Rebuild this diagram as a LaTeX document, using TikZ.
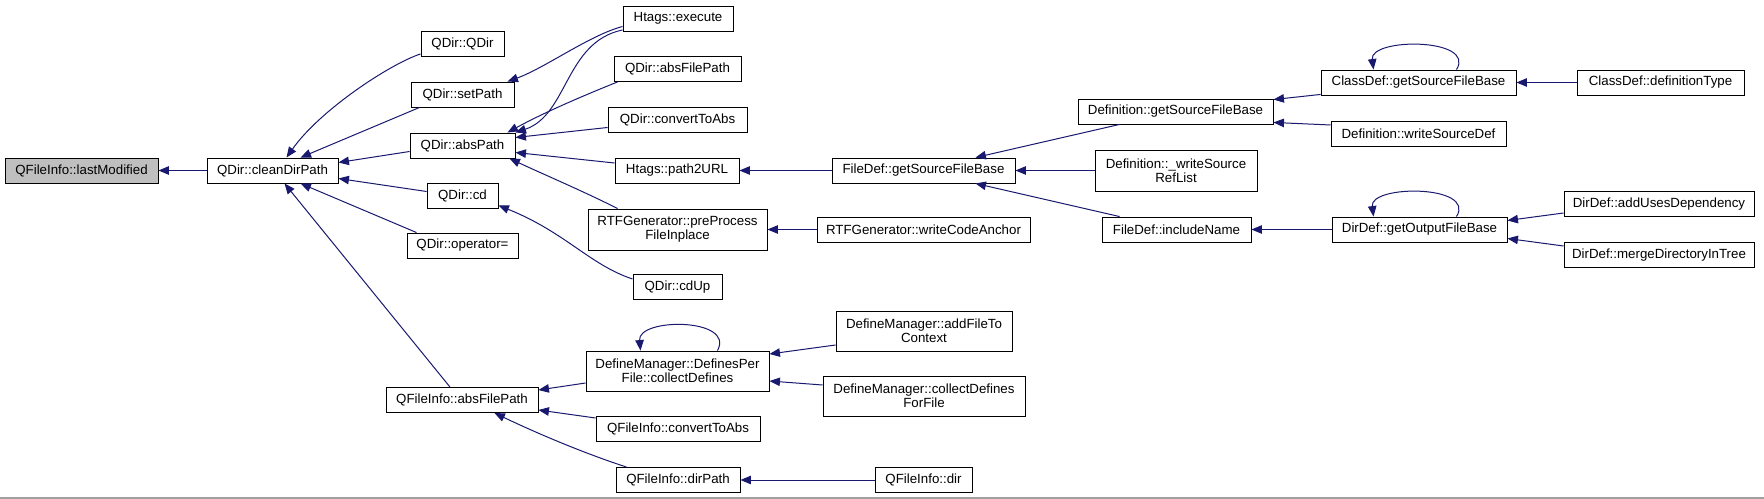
\documentclass[tikz,border=0pt]{standalone}
\usepackage{fontspec}
\setmainfont{Liberation Sans}
\usetikzlibrary{arrows.meta,calc}
\definecolor{edgeblue}{HTML}{191970}
\definecolor{curgray}{HTML}{BFBFBF}
\definecolor{rulegray}{HTML}{A0A0A0}
\begin{document}
\begin{tikzpicture}[x=1bp,y=-1bp,
  box/.style={draw=black, line width=0.9bp, fill=white, inner sep=0pt, align=center,
    font=\fontsize{13.3bp}{14bp}\selectfont, minimum height=25bp},
  tall/.style={minimum height=41bp},
  call/.style={draw=edgeblue, line width=1bp, -{Triangle[length=10.5bp,width=8.5bp]}}]
\useasboundingbox (0,0) rectangle (1764,499);
\fill[white] (0,0) rectangle (1764,499);
\draw[rulegray, line width=1.5bp] (0,498) -- (1764,498);

% column 0-1
\node[box, fill=curgray, minimum width=153bp] (last) at (81.5,170.5) {QFileInfo::lastModified};
\node[box, minimum width=131bp] (clean) at (272.5,170.5) {QDir::cleanDirPath};
% column 2
\node[box, minimum width=83bp] (qdir) at (462.5,44) {QDir::QDir};
\node[box, minimum width=103bp] (setPath) at (462.5,94.5) {QDir::setPath};
\node[box, minimum width=105bp] (absPath) at (462.5,145.5) {QDir::absPath};
\node[box, minimum width=71bp] (cd) at (462.5,195.5) {QDir::cd};
\node[box, minimum width=111bp] (opEq) at (462.5,245.5) {QDir::operator=};
\node[box, minimum width=152bp] (fiAbs) at (462,400) {QFileInfo::absFilePath};
% column 3
\node[box, minimum width=110bp] (execute) at (678,18.5) {Htags::execute};
\node[box, minimum width=127bp] (qdirAbsFile) at (677.5,69) {QDir::absFilePath};
\node[box, minimum width=139bp] (qdirConv) at (677.5,119.5) {QDir::convertToAbs};
\node[box, minimum width=124bp] (path2URL) at (677,170.5) {Htags::path2URL};
\node[box, tall, minimum width=179bp] (rtfPre) at (677.5,229.5) {RTFGenerator::preProcess\\FileInplace};
\node[box, minimum width=89bp] (cdUp) at (677.5,287) {QDir::cdUp};
\node[box, minimum height=40bp, minimum width=183bp] (definesPer) at (677.5,371) {DefineManager::DefinesPer\\File::collectDefines};
\node[box, minimum width=164bp] (fiConv) at (678,429) {QFileInfo::convertToAbs};
\node[box, minimum width=124bp] (fiDirPath) at (678,480) {QFileInfo::dirPath};
% column 4
\node[box, minimum width=183bp] (fdGetSrc) at (923.5,170.5) {FileDef::getSourceFileBase};
\node[box, minimum width=213bp] (rtfWrite) at (923.5,229.5) {RTFGenerator::writeCodeAnchor};
\node[box, minimum height=40bp, minimum width=176bp] (addFileTo) at (924,331) {DefineManager::addFileTo\\Context};
\node[box, minimum height=40bp, minimum width=202bp] (collectForFile) at (924,396) {DefineManager::collectDefines\\ForFile};
\node[box, minimum width=97bp] (fiDir) at (923.5,480) {QFileInfo::dir};
% column 5
\node[box, minimum width=195bp] (defGetSrc) at (1175.5,111.5) {Definition::getSourceFileBase};
\node[box, tall, minimum width=162bp] (writeSrcRef) at (1176,170.5) {Definition::\_writeSource\\RefList};
\node[box, minimum width=149bp] (includeName) at (1176.5,229.5) {FileDef::includeName};
% column 6
\node[box, minimum width=195bp] (classGetSrc) at (1418.5,82.5) {ClassDef::getSourceFileBase};
\node[box, minimum width=175bp] (writeSourceDef) at (1418.5,133.5) {Definition::writeSourceDef};
\node[box, minimum width=175bp] (dirGetOut) at (1419.5,229.5) {DirDef::getOutputFileBase};
% column 7
\node[box, minimum width=167bp] (defType) at (1660.5,82.5) {ClassDef::definitionType};
\node[box, minimum width=190bp] (addUses) at (1659,204) {DirDef::addUsesDependency};
\node[box, minimum width=190bp] (merge) at (1659,255) {DirDef::mergeDirectoryInTree};

% edges
\draw[call] (clean.west) -- (last.east);
\draw[call] ($(qdir.south west)+(0,-3)$) .. controls (390,64) and (320,110) .. ($(clean.north)+(14,0)$);
\draw[call] ($(setPath.south west)+(9,0)$) -- ($(clean.north)+(28,0)$);
\draw[call] ($(absPath.west)+(0,6)$) -- ($(clean.east)+(0,-8)$);
\draw[call] ($(cd.west)+(0,-4)$) -- ($(clean.east)+(0,8)$);
\draw[call] ($(opEq.north west)+(10,0)$) -- ($(clean.south)+(28,0)$);
\draw[call] ($(fiAbs.north)+(-12,0)$) -- ($(clean.south)+(12,0)$);

\draw[call] ($(execute.west)+(0,8)$) .. controls (590,35) and (545,68) .. ($(setPath.north east)+(-7,0)$);
\draw[call] ($(execute.south west)+(0,-1.5)$) .. controls (565,42) and (568,115) .. (absPath.north east);
\draw[call] ($(qdirAbsFile.south west)+(4,0)$) .. controls (585,95) and (545,112) .. ($(absPath.north east)+(-8,0)$);
\draw[call] ($(qdirConv.west)+(0,8)$) -- ($(absPath.east)+(0,-8)$);
\draw[call] ($(path2URL.west)+(0,-7.5)$) -- ($(absPath.east)+(0,7)$);
\draw[call] ($(rtfPre.north west)+(30,0)$) .. controls (585,192) and (545,175) .. ($(absPath.south east)+(-6,0)$);
\draw[call] ($(cdUp.west)+(0,-8)$) .. controls (590,265) and (565,232) .. ($(cd.south east)+(0,-3)$);

\draw[call] (fdGetSrc.west) -- (path2URL.east);
\draw[call] (rtfWrite.west) -- (rtfPre.east);
\draw[call] ($(defGetSrc.south west)+(42,0)$) -- ($(fdGetSrc.north east)+(-40,0)$);
\draw[call] (writeSrcRef.west) -- (fdGetSrc.east);
\draw[call] ($(includeName.north west)+(18,0)$) -- ($(fdGetSrc.south east)+(-40,0)$);

\draw[call] ($(classGetSrc.south west)+(0,-1)$) -- ($(defGetSrc.north east)+(0,1)$);
\draw[call] ($(writeSourceDef.west)+(0,-8.5)$) -- ($(defGetSrc.south east)+(0,-2)$);
\draw[call] ($(classGetSrc.north)+(38,0)$) .. controls +(20,-32) and +(-4,-32) .. ($(classGetSrc.north)+(-45,0)$);
\draw[call] (defType.west) -- (classGetSrc.east);

\draw[call] (dirGetOut.west) -- (includeName.east);
\draw[call] ($(dirGetOut.north)+(37,0)$) .. controls +(20,-32) and +(-4,-32) .. ($(dirGetOut.north)+(-46,0)$);
\draw[call] ($(addUses.west)+(0,9)$) -- ($(dirGetOut.east)+(0,-9)$);
\draw[call] ($(merge.west)+(0,-9)$) -- ($(dirGetOut.east)+(0,9)$);

\draw[call] ($(definesPer.west)+(0,12)$) -- ($(fiAbs.east)+(0,-10)$);
\draw[call] ($(fiConv.west)+(0,-11)$) -- ($(fiAbs.east)+(0,10)$);
\draw[call] ($(fiDirPath.north west)+(11,0)$) .. controls (580,452) and (530,430) .. ($(fiAbs.south east)+(-44,0)$);
\draw[call] ($(definesPer.north)+(40,0)$) .. controls +(18,-33) and +(-3,-33) .. ($(definesPer.north)+(-37,0)$);
\draw[call] ($(addFileTo.west)+(0,14)$) -- ($(definesPer.east)+(0,-17)$);
\draw[call] ($(collectForFile.west)+(0,-11)$) -- ($(definesPer.east)+(0,10)$);
\draw[call] (fiDir.west) -- (fiDirPath.east);
\end{tikzpicture}
\end{document}
